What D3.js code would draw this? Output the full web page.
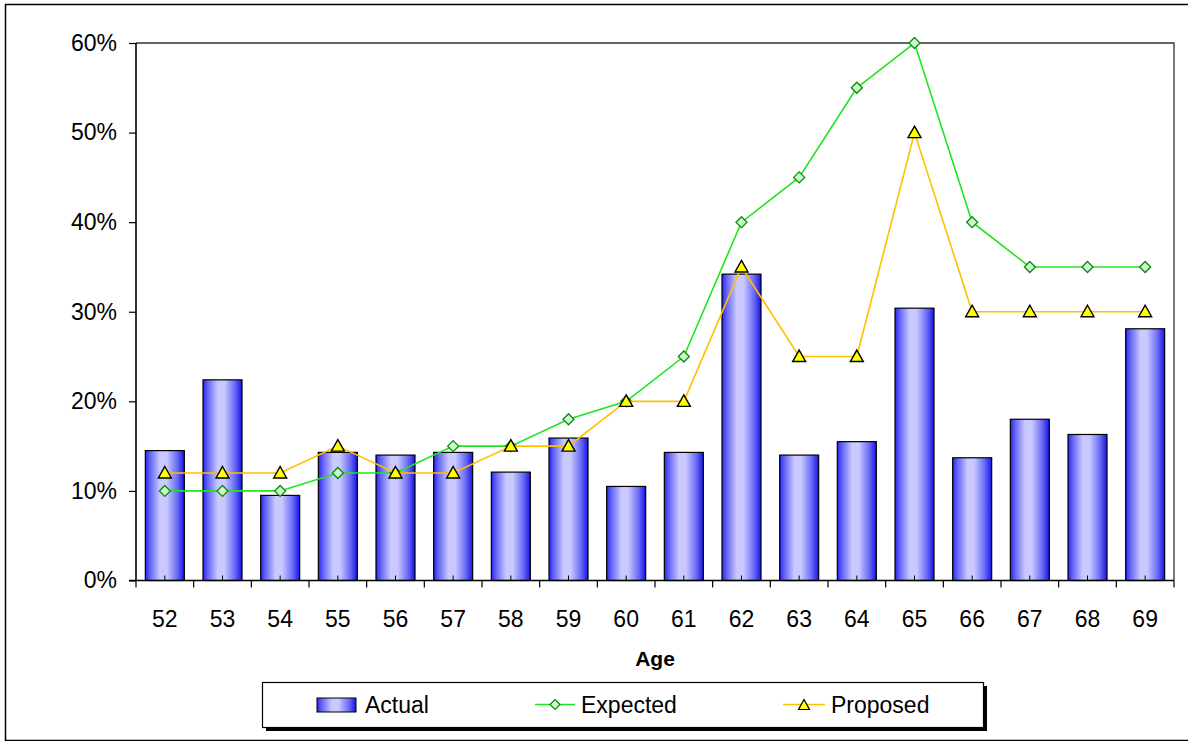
<!DOCTYPE html>
<html>
<head>
<meta charset="utf-8">
<script src="https://cdn.jsdelivr.net/npm/d3@7"></script>
<style>
  html, body { margin: 0; padding: 0; background: #fff; }
  svg { display: block; font-family: "Liberation Sans", Arial, sans-serif; }
</style>
</head>
<body>
<svg id="chart" width="1188" height="741"></svg>
<script>
// Retirement rates by age
const ages = ["52","53","54","55","56","57","58","59","60","61","62","63","64","65","66","67","68","69"];
const actual = [0.145,0.224,0.095,0.143,0.140,0.143,0.121,0.159,0.105,0.143,0.342,0.140,0.155,0.304,0.137,0.180,0.163,0.281];
const expected = [0.10,0.10,0.10,0.12,0.12,0.15,0.15,0.18,0.20,0.25,0.40,0.45,0.55,0.60,0.40,0.35,0.35,0.35];
const proposed = [0.12,0.12,0.12,0.15,0.12,0.12,0.15,0.15,0.20,0.20,0.35,0.25,0.25,0.50,0.30,0.30,0.30,0.30];
const yTicks = [0,0.1,0.2,0.3,0.4,0.5,0.6];
const seriesNames = ["Actual","Expected","Proposed"];

const FS = 23;
const svg = d3.select("#chart");

// outer chart frame
svg.append("path")
  .attr("d", "M1188,4.5 H5.5 V740.5 H1188")
  .attr("fill", "none").attr("stroke", "#000").attr("stroke-width", 1.5);

const plot = {left: 136, top: 43, right: 1174, bottom: 580.5};

const x = d3.scaleBand().domain(ages).range([plot.left, plot.right]).paddingInner(0).paddingOuter(0);
const y = d3.scaleLinear().domain([0, 0.6]).range([plot.bottom, plot.top]);

// bar gradient
const defs = svg.append("defs");
const grad = defs.append("linearGradient").attr("id", "barGrad")
  .attr("x1", "0%").attr("x2", "100%").attr("y1", "0%").attr("y2", "0%");
[[0,"#2626f2"],[0.12,"#6464f6"],[0.38,"#c9c9ff"],[0.55,"#c9c9ff"],[0.82,"#6a6af5"],[1,"#1414e8"]]
  .forEach(([o,c]) => grad.append("stop").attr("offset", o).attr("stop-color", c));

// plot frame (top & right)
svg.append("path")
  .attr("d", `M${plot.left},${plot.top} H${plot.right} V${plot.bottom}`)
  .attr("fill", "none").attr("stroke", "#333").attr("stroke-width", 1.3);

// bars
const barW = 39;
svg.append("g").selectAll("rect").data(actual).join("rect")
  .attr("x", (d,i) => x(ages[i]) + x.bandwidth()/2 - barW/2)
  .attr("y", d => y(d))
  .attr("width", barW)
  .attr("height", d => y(0) - y(d))
  .attr("fill", "url(#barGrad)")
  .attr("stroke", "#000").attr("stroke-width", 1.2);

// y axis
const yAxis = d3.axisLeft(y).tickValues(yTicks).tickFormat(d3.format(".0%")).tickSize(7).tickPadding(12);
const gy = svg.append("g").attr("transform", `translate(${plot.left},0)`).call(yAxis);
gy.select(".domain").attr("stroke", "#000").attr("stroke-width", 1.6).attr("d", `M0,${plot.top}V${plot.bottom}`);
gy.selectAll(".tick line").attr("stroke", "#000").attr("stroke-width", 1.2);
gy.selectAll(".tick text").attr("font-size", FS).attr("fill", "#000")
  .attr("font-family", "'Liberation Sans', Arial, sans-serif");

// x axis
const gx = svg.append("g").attr("transform", `translate(0,${plot.bottom})`);
gx.append("line").attr("x1", plot.left - 7).attr("x2", plot.right).attr("y1", 0).attr("y2", 0)
  .attr("stroke", "#000").attr("stroke-width", 1.6);
const bounds = ages.map(a => x(a)).concat([plot.right]);
gx.selectAll("line.bound").data(bounds).join("line").attr("class", "bound")
  .attr("x1", d => d).attr("x2", d => d).attr("y1", 0).attr("y2", 7)
  .attr("stroke", "#000").attr("stroke-width", 1.2);
gx.selectAll("line.mid").data(ages).join("line").attr("class", "mid")
  .attr("x1", d => x(d) + x.bandwidth()/2).attr("x2", d => x(d) + x.bandwidth()/2)
  .attr("y1", 0).attr("y2", -5)
  .attr("stroke", "#000").attr("stroke-width", 1);
gx.selectAll("text").data(ages).join("text")
  .attr("x", d => x(d) + x.bandwidth()/2).attr("y", 46)
  .attr("text-anchor", "middle").attr("font-size", FS).attr("fill", "#000")
  .text(d => d);

svg.append("text").attr("x", 655).attr("y", 666).attr("text-anchor", "middle")
  .attr("font-size", 21).attr("font-weight", "bold").text("Age");

const cx = i => x(ages[i]) + x.bandwidth()/2;
const line = d3.line().x((d,i) => cx(i)).y(d => y(d));

// Expected series
svg.append("path").datum(expected).attr("d", line)
  .attr("fill", "none").attr("stroke", "#1ee61e").attr("stroke-width", 1.6);
const diamond = "M0,-5.5 L5.5,0 L0,5.5 L-5.5,0 Z";
svg.append("g").selectAll("path").data(expected).join("path")
  .attr("transform", (d,i) => `translate(${cx(i)},${y(d)})`)
  .attr("d", diamond).attr("fill", "#ccf8cc").attr("stroke", "#0a8a0a").attr("stroke-width", 1.3);

// Proposed series
svg.append("path").datum(proposed).attr("d", line)
  .attr("fill", "none").attr("stroke", "#ffc000").attr("stroke-width", 1.6);
const tri = "M0,-6.5 L6.5,5 L-6.5,5 Z";
svg.append("g").selectAll("path").data(proposed).join("path")
  .attr("transform", (d,i) => `translate(${cx(i)},${y(d)})`)
  .attr("d", tri).attr("fill", "#ffff00").attr("stroke", "#000").attr("stroke-width", 1.4)
  .attr("stroke-linejoin", "miter");

// legend
const lg = svg.append("g");
lg.append("rect").attr("x", 266).attr("y", 686).attr("width", 721).attr("height", 45).attr("fill", "#000");
lg.append("rect").attr("x", 262.5).attr("y", 682.5).attr("width", 721).attr("height", 45)
  .attr("fill", "#fff").attr("stroke", "#000").attr("stroke-width", 1.2);

lg.append("rect").attr("x", 317).attr("y", 698).attr("width", 39).attr("height", 14)
  .attr("fill", "url(#barGrad)").attr("stroke", "#000").attr("stroke-width", 1);
lg.append("text").attr("x", 365).attr("y", 713).attr("font-size", FS).text(seriesNames[0]);

lg.append("line").attr("x1", 535).attr("x2", 575).attr("y1", 704.5).attr("y2", 704.5)
  .attr("stroke", "#1ee61e").attr("stroke-width", 1.4);
lg.append("path").attr("transform", "translate(555,704.5)").attr("d", "M0,-5 L5,0 L0,5 L-5,0 Z")
  .attr("fill", "#ccf8cc").attr("stroke", "#0a8a0a").attr("stroke-width", 1.2);
lg.append("text").attr("x", 581).attr("y", 713).attr("font-size", FS).text(seriesNames[1]);

lg.append("line").attr("x1", 783).attr("x2", 825).attr("y1", 704.5).attr("y2", 704.5)
  .attr("stroke", "#ffc000").attr("stroke-width", 1.4);
lg.append("path").attr("transform", "translate(804,705)").attr("d", "M0,-5.5 L5.5,4.5 L-5.5,4.5 Z")
  .attr("fill", "#ffff00").attr("stroke", "#000").attr("stroke-width", 1.2);
lg.append("text").attr("x", 831).attr("y", 713).attr("font-size", FS).text(seriesNames[2]);
</script>
</body>
</html>
